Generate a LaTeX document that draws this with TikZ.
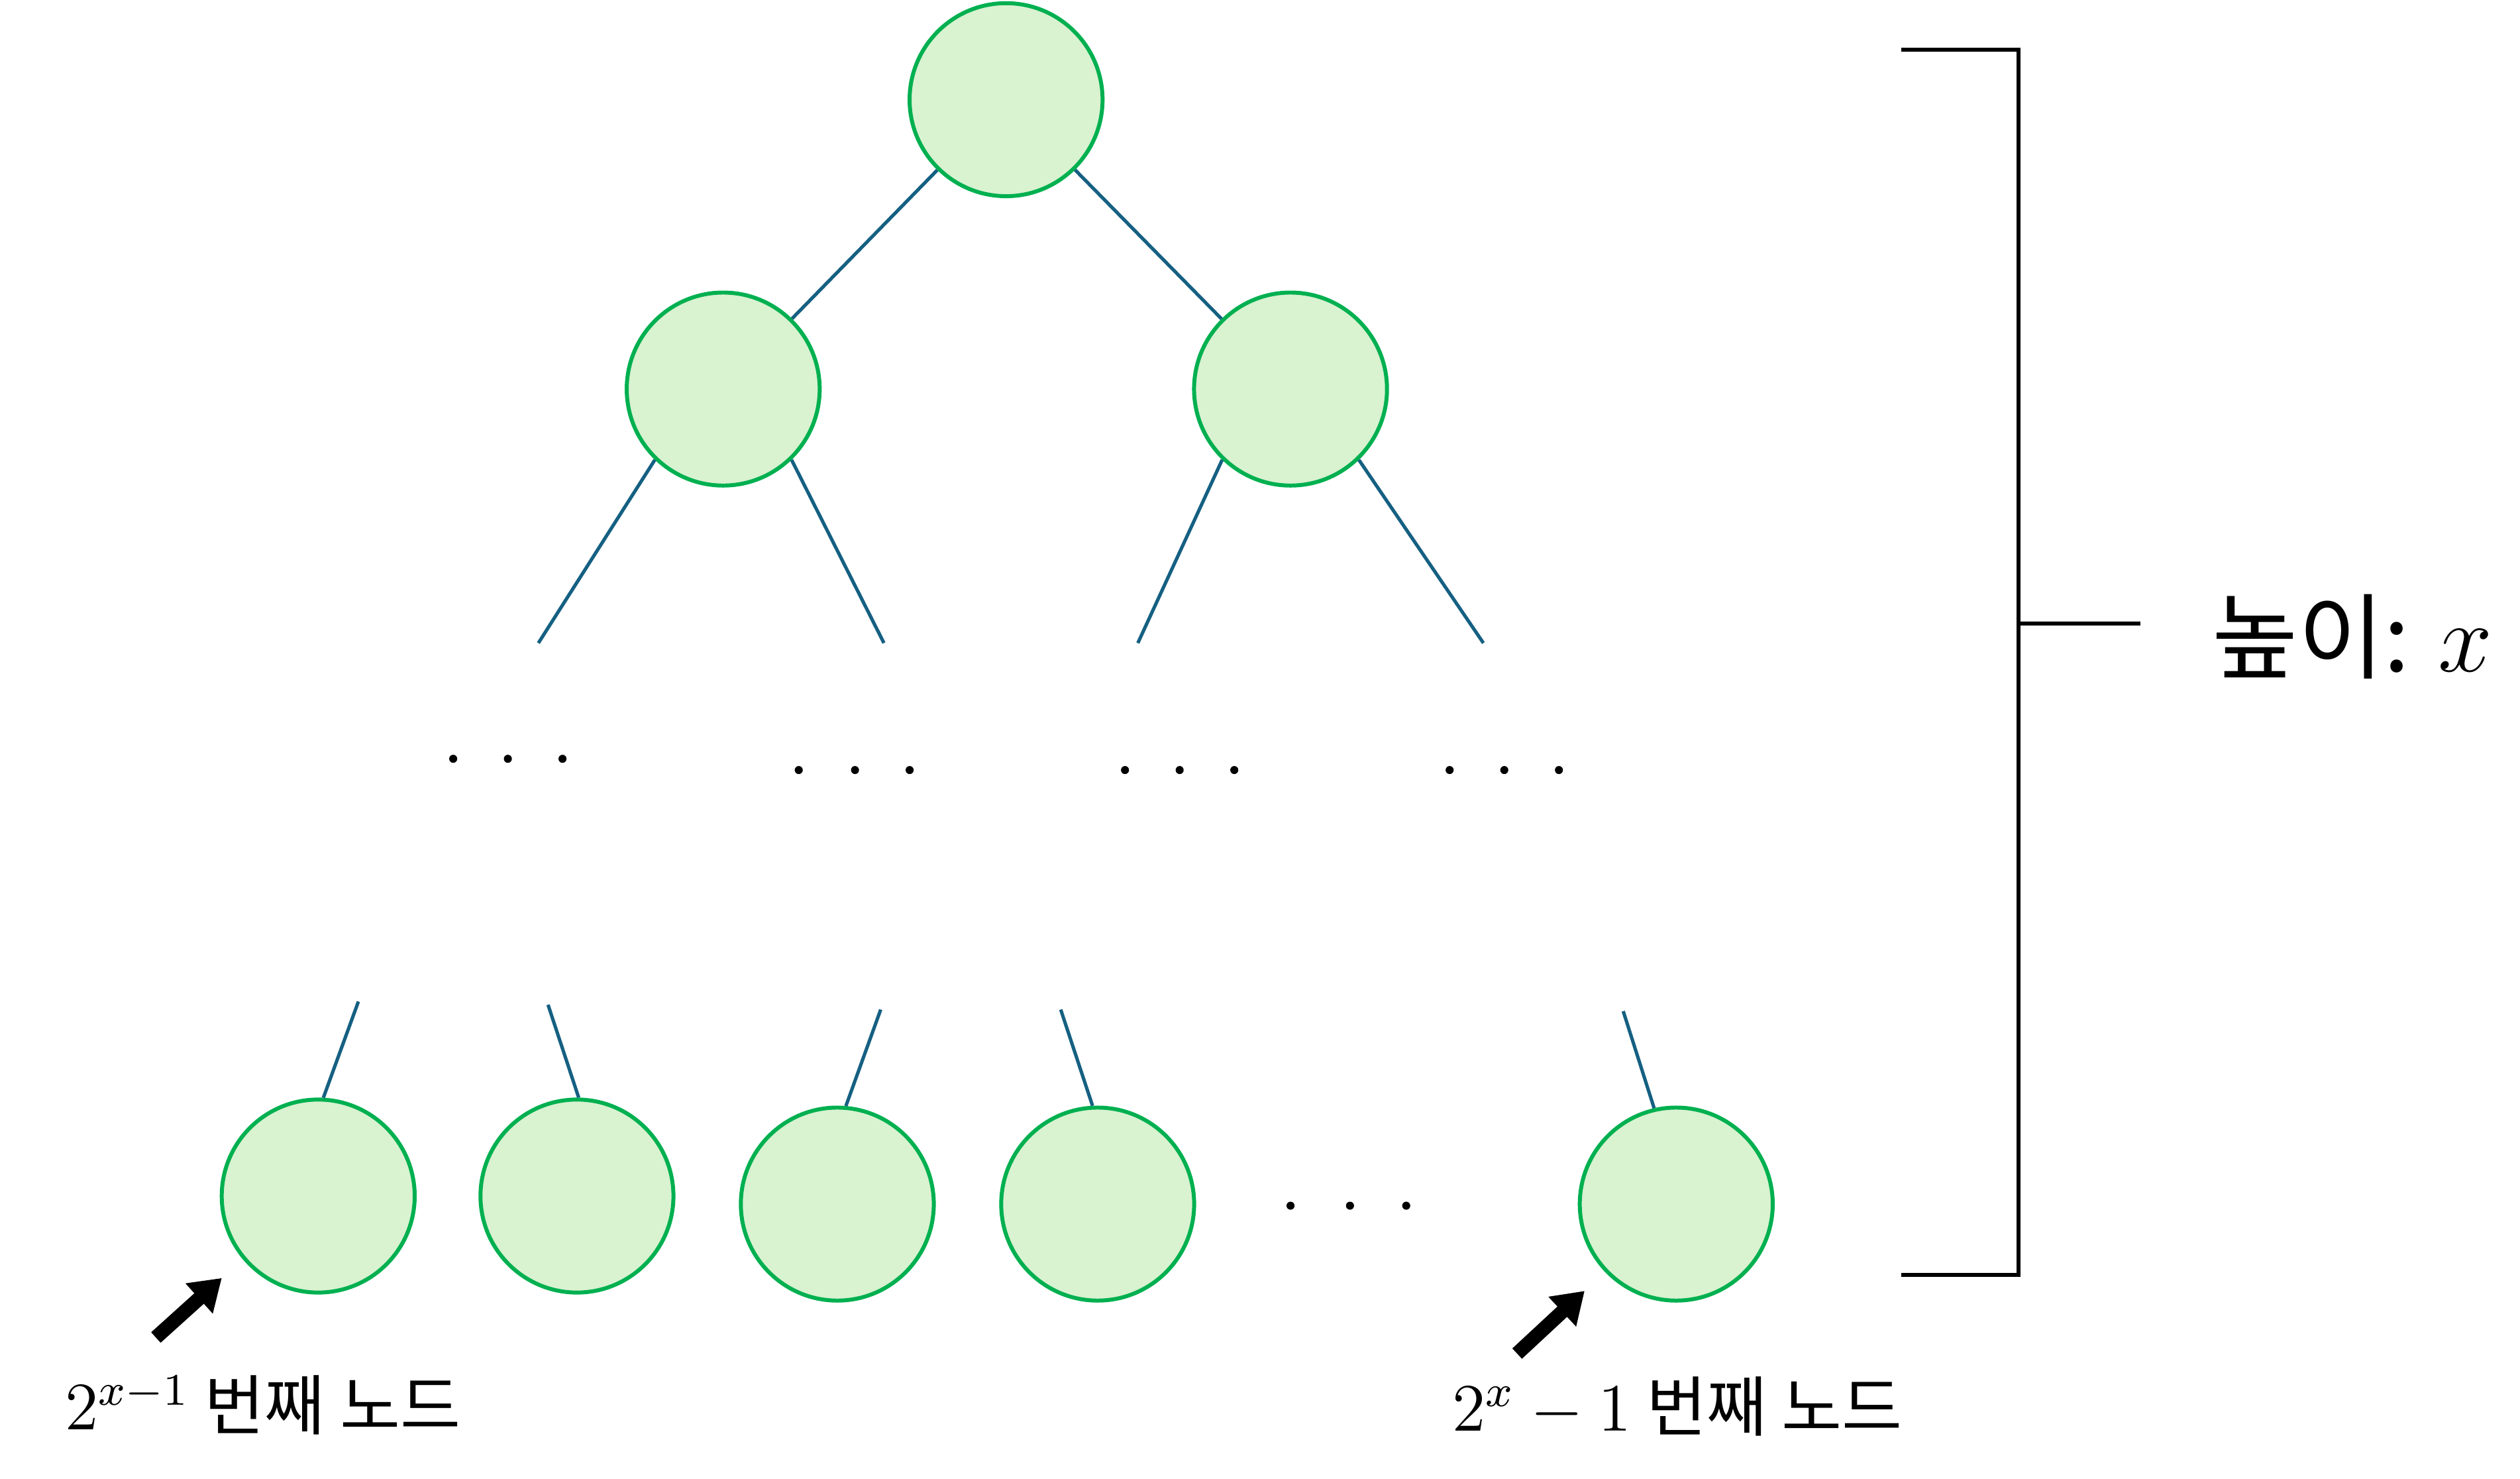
\documentclass[tikz,border=0pt]{standalone}
\usepackage{fontspec}
\newfontfamily\kr{Noto Sans CJK KR}
\usepackage{tikz}
\usetikzlibrary{arrows.meta}
\usepackage{xcolor}
\definecolor{nodegreen}{RGB}{0,176,80}
\definecolor{nodefill}{RGB}{217,242,208}
\definecolor{edgeblue}{RGB}{21,96,130}

\begin{document}
\begin{tikzpicture}[x=0.01cm, y=-0.01cm,
    tnode/.style={circle, draw=nodegreen, fill=nodefill, line width=0.7pt, minimum size=1.2cm, inner sep=0pt},
    edge/.style={draw=edgeblue, line width=0.6pt},
    ptr/.style={line width=2.5pt, -{Triangle[length=0.19cm, width=0.24cm]}}]
    \useasboundingbox (0,0) rectangle (1568,920);

    % top of the tree
    \node[tnode] (root) at (626,62) {};
    \node[tnode] (l) at (450,242) {};
    \node[tnode] (r) at (803,242) {};
    \draw[edge] (root) -- (l);
    \draw[edge] (root) -- (r);

    % open ends below level 2
    \coordinate (la) at (335,400);
    \coordinate (lb) at (550,400);
    \coordinate (ra) at (708,400);
    \coordinate (rb) at (923,400);
    \draw[edge] (l.226) -- (la);
    \draw[edge] (l.314) -- (lb);
    \draw[edge] (r.226) -- (ra);
    \draw[edge] (r.314) -- (rb);

    % middle dots
    \foreach \x in {282,316,350} \fill (\x,472) circle (2.5);
    \foreach \x in {497,532,566,700,734,768,902,936,970} \fill (\x,479) circle (2.5);

    % leaves
    \node[tnode] (b1) at (198,744) {};
    \node[tnode] (b2) at (359,744) {};
    \node[tnode] (b3) at (521,749) {};
    \node[tnode] (b4) at (683,749) {};
    \node[tnode] (b5) at (1043,749) {};
    \coordinate (t1) at (223,623);
    \coordinate (t2) at (341,625);
    \coordinate (t3) at (548,628);
    \coordinate (t4) at (660,628);
    \coordinate (t5) at (1010,629);
    \draw[edge] (t1) -- (b1.87);
    \draw[edge] (t2) -- (b2.89);
    \draw[edge] (t3) -- (b3.85);
    \draw[edge] (t4) -- (b4.93);
    \draw[edge] (t5) -- (b5.103);
    \foreach \x in {803,840,875} \fill (\x,750) circle (2.5);

    % height bracket
    \coordinate (bt) at (1183,31);
    \coordinate (bb) at (1183,793);
    \coordinate (bm) at (1256,388);
    \coordinate (bh) at (1332,388);
    \draw[line width=0.7pt] (bt) -- (bt -| bm) -- (bb -| bm) -- (bb);
    \draw[line width=0.7pt] (bm) -- (bh);
    \node[anchor=west, font=\kr\fontsize{16.5}{20}\selectfont, inner sep=0pt] (height) at (1376,396) {높이: $x$};

    % first and last leaf
    \coordinate (a1) at (97,832);
    \coordinate (a1tip) at (138,795);
    \coordinate (a2) at (944,842);
    \coordinate (a2tip) at (986,803);
    \draw[ptr] (a1) -- (a1tip);
    \draw[ptr] (a2) -- (a2tip);
    \node[anchor=west, font=\kr\fontsize{11.6}{14}\selectfont, inner sep=0pt] (first) at (40,874) {$2^{x-1}$ 번째 노드};
    \node[anchor=west, font=\kr\fontsize{11.6}{14}\selectfont, inner sep=0pt] (last) at (903,875) {$2^{x}-1$ 번째 노드};
\end{tikzpicture}
\end{document}
